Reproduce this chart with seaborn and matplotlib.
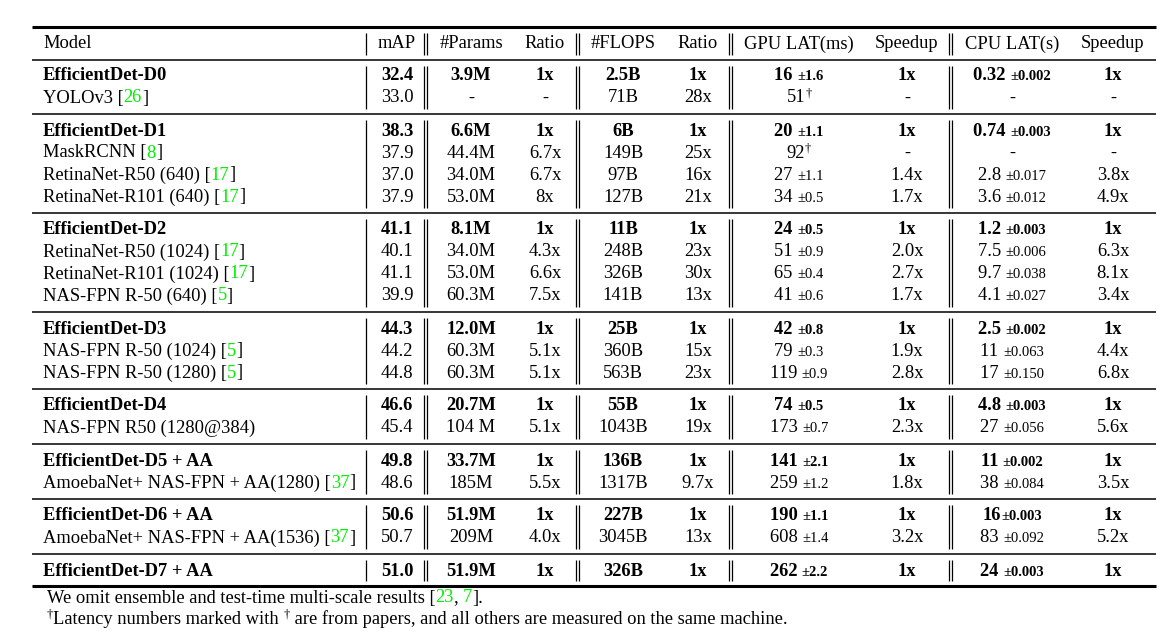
import matplotlib
matplotlib.use("Agg")
import matplotlib.pyplot as plt
import seaborn as sns
import pandas as pd

# ── Table content ──────────────────────────────────────────────────────────────
headers = ["Model", "mAP", "#Params", "Ratio", "#FLOPS", "Ratio",
           "GPU LAT(ms)", "Speedup", "CPU LAT(s)", "Speedup"]

models = [
    "EfficientDet-D0", "YOLOv3",
    "EfficientDet-D1", "MaskRCNN", "RetinaNet-R50 (640)", "RetinaNet-R101 (640)",
    "EfficientDet-D2", "RetinaNet-R50 (1024)", "RetinaNet-R101 (1024)", "NAS-FPN R-50 (640)",
    "EfficientDet-D3", "NAS-FPN R-50 (1024)", "NAS-FPN R-50 (1280)",
    "EfficientDet-D4", "NAS-FPN R50 (1280@384)",
    "EfficientDet-D5 + AA", "AmoebaNet+ NAS-FPN + AA(1280)",
    "EfficientDet-D6 + AA", "AmoebaNet+ NAS-FPN + AA(1536)",
    "EfficientDet-D7 + AA",
]
refs = ["", "26",
        "", "8", "17", "17",
        "", "17", "17", "5",
        "", "5", "5",
        "", "",
        "", "37",
        "", "37",
        ""]
group_sizes = [2, 4, 4, 3, 2, 2, 2, 1]

map_vals = ["32.4", "33.0", "38.3", "37.9", "37.0", "37.9", "41.1", "40.1", "41.1", "39.9",
            "44.3", "44.2", "44.8", "46.6", "45.4", "49.8", "48.6", "50.6", "50.7", "51.0"]
params = ["3.9M", "-", "6.6M", "44.4M", "34.0M", "53.0M", "8.1M", "34.0M", "53.0M", "60.3M",
          "12.0M", "60.3M", "60.3M", "20.7M", "104 M", "33.7M", "185M", "51.9M", "209M", "51.9M"]
params_ratio = ["1x", "-", "1x", "6.7x", "6.7x", "8x", "1x", "4.3x", "6.6x", "7.5x",
                "1x", "5.1x", "5.1x", "1x", "5.1x", "1x", "5.5x", "1x", "4.0x", "1x"]
flops = ["2.5B", "71B", "6B", "149B", "97B", "127B", "11B", "248B", "326B", "141B",
         "25B", "360B", "563B", "55B", "1043B", "136B", "1317B", "227B", "3045B", "326B"]
flops_ratio = ["1x", "28x", "1x", "25x", "16x", "21x", "1x", "23x", "30x", "13x",
               "1x", "15x", "23x", "1x", "19x", "1x", "9.7x", "1x", "13x", "1x"]
gpu_lat = ["16 ±1.6", "51†", "20 ±1.1", "92†", "27 ±1.1", "34 ±0.5",
           "24 ±0.5", "51 ±0.9", "65 ±0.4", "41 ±0.6",
           "42 ±0.8", "79 ±0.3", "119 ±0.9", "74 ±0.5", "173 ±0.7",
           "141 ±2.1", "259 ±1.2", "190 ±1.1", "608 ±1.4", "262 ±2.2"]
gpu_speedup = ["1x", "-", "1x", "-", "1.4x", "1.7x", "1x", "2.0x", "2.7x", "1.7x",
               "1x", "1.9x", "2.8x", "1x", "2.3x", "1x", "1.8x", "1x", "3.2x", "1x"]
cpu_lat = ["0.32 ±0.002", "-", "0.74 ±0.003", "-", "2.8 ±0.017", "3.6 ±0.012",
           "1.2 ±0.003", "7.5 ±0.006", "9.7 ±0.038", "4.1 ±0.027",
           "2.5 ±0.002", "11 ±0.063", "17 ±0.150", "4.8 ±0.003", "27 ±0.056",
           "11 ±0.002", "38 ±0.084", "16±0.003", "83 ±0.092", "24 ±0.003"]
cpu_speedup = ["1x", "-", "1x", "-", "3.8x", "4.9x", "1x", "6.3x", "8.1x", "3.4x",
               "1x", "4.4x", "6.8x", "1x", "5.6x", "1x", "3.5x", "1x", "5.2x", "1x"]

footnote_refs = ["23", "7"]

# ── Layout ─────────────────────────────────────────────────────────────────────
W, H = 1173, 634
FS = 13.3        # body text (pt)
FS_SMALL = 10.5  # ± part
FS_SUP = 9
CITE = "#00ee00"
X_LEFT, X_RIGHT = 32, 1156
X_MODEL = 43
COL_X = [397, 471, 545, 623, 698, 799, 907, 1012, 1113]
SINGLE_BARS = [366]
DOUBLE_BARS = [425.5, 577.5, 730, 950.5]
Y_TOP, Y_HEAD, Y_HEADLINE = 27, 43, 60
ROW0, ROW_STEP, GROUP_STEP = 75, 22, 33
BASE = 5.5       # center -> baseline offset (px)

df = pd.DataFrame({
    "model": models, "ref": refs, "mAP": map_vals, "params": params,
    "params_ratio": params_ratio, "flops": flops, "flops_ratio": flops_ratio,
    "gpu": gpu_lat, "gpu_speedup": gpu_speedup, "cpu": cpu_lat, "cpu_speedup": cpu_speedup,
})
df["ours"] = df["model"].str.startswith("EfficientDet")

sns.set_theme(style="white")
plt.rcParams["font.family"] = ["Liberation Serif", "DejaVu Serif"]

fig = plt.figure(figsize=(W / 100, H / 100), dpi=100)
ax = fig.add_axes([0, 0, 1, 1])
ax.set_xlim(0, W)
ax.set_ylim(H, 0)
ax.set_axis_off()
renderer = fig.canvas.get_renderer()


def ink_width(s, **kw):
    t = ax.text(0, 0, s, **kw)
    w = t.get_window_extent(renderer).width
    t.remove()
    return w


def advance(s, **kw):
    # pen advance of s: bracket it with bars so side bearings cancel out
    return ink_width("|" + s + "|", **kw) - ink_width("||", **kw)


def draw_runs(x, y, runs, ha="left"):
    """runs: list of dicts(s, weight, size, color, rise). y is row center."""
    items, total = [], 0.0
    for r in runs:
        kw = dict(fontsize=r.get("size", FS), fontweight=r.get("weight", "normal"))
        items.append((r, kw, total))
        total += advance(r["s"], **kw)
    start = x - total / 2 if ha == "center" else x
    for r, kw, off in items:
        ax.text(start + off, y + BASE + r.get("rise", 0), r["s"], color=r.get("color", "black"),
                ha="left", va="baseline", **kw)


def cell_runs(text, weight):
    if text.endswith("†"):
        return [dict(s=text[:-1], weight=weight),
                dict(s="†", size=FS_SUP, rise=-6, weight=weight)]
    if "±" in text:
        main, std = text.split("±")
        return [dict(s=main, weight=weight),
                dict(s="±" + std, size=FS_SMALL, weight=weight)]
    return [dict(s=text, weight=weight)]


# ── Header ─────────────────────────────────────────────────────────────────────
draw_runs(X_MODEL, Y_HEAD, [dict(s=headers[0])])
for x, h in zip(COL_X, headers[1:]):
    draw_runs(x, Y_HEAD, [dict(s=h)], ha="center")

# ── Body ───────────────────────────────────────────────────────────────────────
row_y, rules = [], [Y_HEADLINE]
y = ROW0
for g, n in enumerate(group_sizes):
    for i in range(n):
        row_y.append(y)
        if i < n - 1:
            y += ROW_STEP
    rules.append(y + 17 if g < len(group_sizes) - 1 else y + 16)
    y += GROUP_STEP
df["y"] = row_y

cols = ["mAP", "params", "params_ratio", "flops", "flops_ratio",
        "gpu", "gpu_speedup", "cpu", "cpu_speedup"]
for _, row in df.iterrows():
    weight = "bold" if row["ours"] else "normal"
    name = [dict(s=row["model"] + (" [" if row["ref"] else ""), weight=weight)]
    if row["ref"]:
        name += [dict(s=row["ref"], color=CITE), dict(s="]")]
    draw_runs(X_MODEL, row["y"], name)
    for x, c in zip(COL_X, cols):
        draw_runs(x, row["y"], cell_runs(row[c], weight), ha="center")

# ── Rules ──────────────────────────────────────────────────────────────────────
ax.hlines([Y_TOP, rules[-1]], X_LEFT, X_RIGHT, color="black", lw=2.2)
ax.hlines(rules[:-1], X_LEFT, X_RIGHT, color="black", lw=1.1)

blocks = [(Y_TOP + 6, Y_HEADLINE - 5)] + [(a + 6, b - 5) for a, b in zip(rules[:-1], rules[1:])]
for y0, y1 in blocks:
    ax.vlines(SINGLE_BARS, y0, y1, color="black", lw=0.9)
    for xb in DOUBLE_BARS:
        ax.vlines([xb - 1.5, xb + 1.5], y0, y1, color="black", lw=0.9)

# ── Footnotes ──────────────────────────────────────────────────────────────────
draw_runs(47, 597, [
    dict(s="We omit ensemble and test-time multi-scale results ["),
    dict(s=footnote_refs[0], color=CITE), dict(s=", "),
    dict(s=footnote_refs[1], color=CITE), dict(s="]."),
])
draw_runs(47, 618, [
    dict(s="†", size=FS_SUP, rise=-6),
    dict(s="Latency numbers marked with "),
    dict(s="†", size=FS_SUP, rise=-6),
    dict(s=" are from papers, and all others are measured on the same machine."),
])

fig.savefig("out.png", dpi=100, facecolor="white")
plt.close(fig)
